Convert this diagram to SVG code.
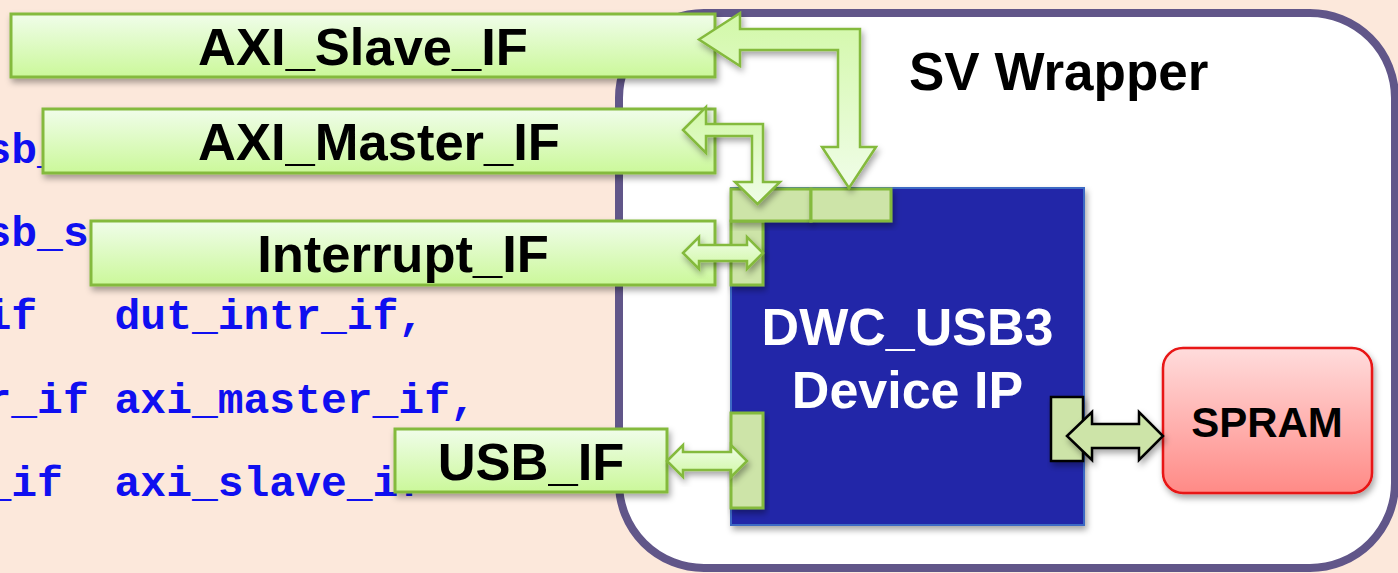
<svg xmlns="http://www.w3.org/2000/svg" width="1398" height="573" viewBox="0 0 1398 573">
<defs>
<linearGradient id="gbox" x1="0" y1="0" x2="0" y2="1">
<stop offset="0" stop-color="#F0FDEA"/>
<stop offset="1" stop-color="#CBF89A"/>
</linearGradient>
<linearGradient id="garrL" x1="0" y1="0" x2="0" y2="1">
<stop offset="0" stop-color="#D2F8A8"/>
<stop offset="1" stop-color="#F0FDE8"/>
</linearGradient>
<linearGradient id="garrH" x1="0" y1="0" x2="0" y2="1">
<stop offset="0" stop-color="#F0FDE8"/>
<stop offset="1" stop-color="#D0F8A4"/>
</linearGradient>
<linearGradient id="gram" x1="0" y1="0" x2="0" y2="1">
<stop offset="0" stop-color="#FFDCDC"/>
<stop offset="1" stop-color="#FF8A86"/>
</linearGradient>
<filter id="sh" x="-10%" y="-10%" width="130%" height="140%">
<feDropShadow dx="2" dy="4" stdDeviation="3" flood-color="#000" flood-opacity="0.35"/>
</filter>
<style>
.code{font-family:"Liberation Mono","Courier New",monospace;font-weight:bold;font-size:43px;fill:#0F0FF0;}
.lbl{font-family:"Liberation Sans",Arial,sans-serif;font-weight:bold;font-size:52.5px;fill:#000;text-anchor:middle;}
.box{fill:url(#gbox);stroke:#84BA3C;stroke-width:3;filter:url(#sh);}
.port{fill:#CDE4A8;stroke:#84BA3C;stroke-width:3;filter:url(#sh);}
.arrL{fill:url(#garrL);stroke:#84BA3C;stroke-width:2.5;stroke-linejoin:miter;filter:url(#sh);}
.arrH{fill:url(#garrH);stroke:#84BA3C;stroke-width:2.5;stroke-linejoin:miter;filter:url(#sh);}
</style>
</defs>
<rect x="0" y="0" width="1398" height="573" fill="#FCE8DB"/>
<g id="code">
<text class="code" x="-14.5" y="162.5">sb_</text>
<text class="code" x="-14.5" y="245.5">sb_s</text>
<text class="code" x="-14.5" y="329" xml:space="preserve">if   dut_intr_if,</text>
<text class="code" x="-14.5" y="412.5" xml:space="preserve">r_if axi_master_if,</text>
<text class="code" x="-14.5" y="496" xml:space="preserve">_if  axi_slave_if</text>
</g>
<g id="wrapper">
<rect x="619" y="13" width="776" height="555" rx="85" ry="85" fill="#FFFFFF" stroke="#615689" stroke-width="8"/>
<text x="909" y="90" font-family="Liberation Sans, Arial, sans-serif" font-weight="bold" font-size="53" fill="#000">SV Wrapper</text>
</g>
<g id="dwc_usb3">
<rect x="731" y="188" width="353" height="337" fill="#2326A8" stroke="#3C6AC4" stroke-width="2" filter="url(#sh)"/>
<text x="907.5" y="345" font-family="Liberation Sans, Arial, sans-serif" font-weight="bold" font-size="52" fill="#FFFFFF" text-anchor="middle">DWC_USB3</text>
<text x="907.5" y="408" font-family="Liberation Sans, Arial, sans-serif" font-weight="bold" font-size="52" fill="#FFFFFF" text-anchor="middle">Device IP</text>
</g>
<g id="ports">
<rect class="port" x="731" y="221" width="32" height="64"/>
<rect class="port" x="731" y="189" width="80" height="32"/>
<rect class="port" x="811" y="189" width="80" height="32"/>
<rect class="port" x="731" y="413" width="32" height="95"/>
<rect x="1051" y="397" width="32" height="64" fill="#CDE4A8" stroke="#000" stroke-width="2.5" filter="url(#sh)"/>
</g>
<g id="spram">
<rect x="1163" y="348" width="209" height="145" rx="20" ry="20" fill="url(#gram)" stroke="#E81212" stroke-width="2.5" filter="url(#sh)"/>
<text x="1267" y="437" font-family="Liberation Sans, Arial, sans-serif" font-weight="bold" font-size="42" fill="#000" text-anchor="middle">SPRAM</text>
</g>
<g id="axi_slave_if">
<rect class="box" x="11" y="14" width="704" height="63"/>
<text class="lbl" x="363" y="65">AXI_Slave_IF</text>
</g>
<g id="axi_master_if">
<rect class="box" x="43" y="109" width="672" height="64"/>
<text class="lbl" x="379" y="160">AXI_Master_IF</text>
</g>
<g id="interrupt_if">
<rect class="box" x="91" y="221" width="624" height="64"/>
<text class="lbl" x="403" y="272">Interrupt_IF</text>
</g>
<g id="usb_if">
<rect class="box" x="395" y="429" width="272" height="63"/>
<text class="lbl" x="531" y="480">USB_IF</text>
</g>
<g id="connectors">
<path class="arrL" d="M699,39.5 L740,13 L740,29 L860,29 L860,147 L876,147 L849,188 L822,147 L838,147 L838,50 L740,50 L740,66 Z"/>
<path class="arrL" d="M683,130 L706,107 L706,124 L763,124 L763,182 L780,182 L757.5,204 L735,182 L752,182 L752,136 L706,136 L706,153 Z"/>
<path class="arrH" d="M683,253 L699,237 L699,245 L747,245 L747,237 L763,253 L747,269 L747,261 L699,261 L699,269 Z"/>
<path class="arrH" d="M667,461 L683,445 L683,452 L731,452 L731,445 L747,461 L731,477 L731,470 L683,470 L683,477 Z"/>
<path d="M1067,436 L1092,412 L1092,424 L1139,424 L1139,412 L1163,436 L1139,460 L1139,448 L1092,448 L1092,460 Z" fill="#CDE4A8" stroke="#000" stroke-width="2.5" filter="url(#sh)"/>
</g>
</svg>
